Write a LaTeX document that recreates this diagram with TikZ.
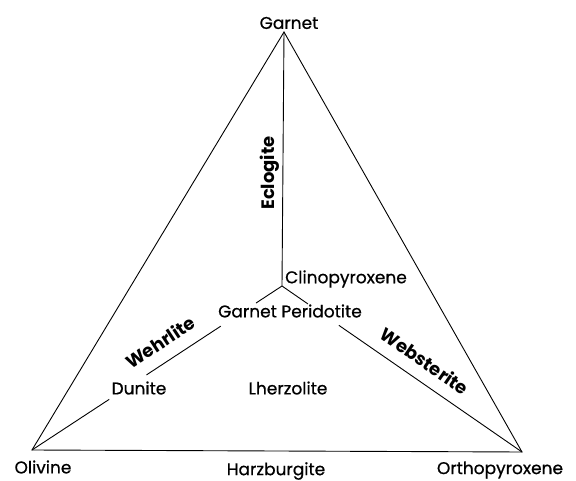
\documentclass[tikz,border=0pt]{standalone}
\usepackage{fontspec}
\setmainfont{Poppins}
\newfontfamily\lblfont{Poppins}[FakeBold=0.7]
\usetikzlibrary{calc}
\begin{document}
\begin{tikzpicture}[x=1pt,y=-1pt,
  edge/.style={line width=0.9pt,black},
  lbl/.style={inner sep=0pt,font=\lblfont\fontsize{17}{19}\selectfont},
  blbl/.style={inner sep=0pt,font=\fontsize{18}{20}\selectfont\bfseries}]
\useasboundingbox (0,0) rectangle (576,481);
\coordinate (gt) at (284,32);
\coordinate (ol) at (32,450);
\coordinate (op) at (522,452);
\coordinate (c) at (282,286);
% gaps on inner lines
\coordinate (l1) at ($(c)!0.104!(ol)$);
\coordinate (l2) at ($(c)!0.245!(ol)$);
\coordinate (l3) at ($(c)!0.542!(ol)$);
\coordinate (l4) at ($(c)!0.691!(ol)$);
\coordinate (r1) at ($(c)!0.108!(op)$);
\coordinate (r2) at ($(c)!0.237!(op)$);
\draw[edge] (gt) -- (ol) -- (op) -- cycle;
\draw[edge] (gt) -- (c);
\draw[edge] (c) -- (l1) (l2) -- (l3) (l4) -- (ol);
\draw[edge] (c) -- (r1) (r2) -- (op);
% labels
\node[lbl] (ngt) at (289,23) {Garnet};
\node[lbl] (nol) at (43,467) {Olivine};
\node[lbl] (nop) at (500,470) {Orthopyroxene};
\node[lbl] (nhz) at (276,471) {Harzburgite};
\node[lbl] (nlh) at (288,388) {Lherzolite};
\node[lbl] (ndu) at (139,388) {Dunite};
\node[lbl] (ngp) at (290,311) {Garnet Peridotite};
\node[lbl,anchor=west] (ncp) at (285,279) {Clinopyroxene};
\node[blbl,rotate=90] (nec) at (270,173) {Eclogite};
\node[blbl,rotate=33.4] (nwe) at (160,342) {Wehrlite};
\node[blbl,rotate=-34.6] (nws) at (425,361) {Websterite};
\end{tikzpicture}
\end{document}
